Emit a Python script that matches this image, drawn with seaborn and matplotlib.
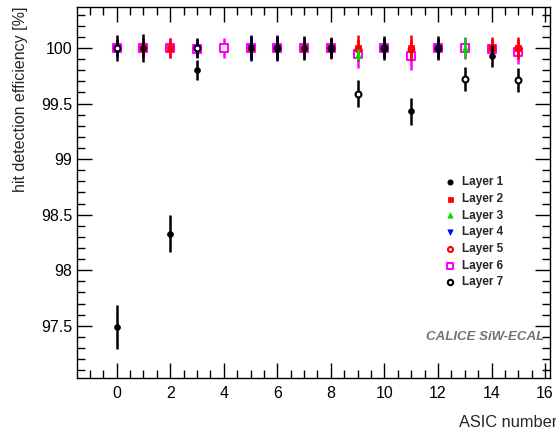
import numpy as np
import pandas as pd
import matplotlib
matplotlib.use("Agg")
import matplotlib.pyplot as plt
from matplotlib.ticker import MultipleLocator
import seaborn as sns

nan = np.nan
asic = list(range(16))

# efficiency [%] per ASIC for each layer (nan = ASIC not measured)
layer1 = [97.49, 100.0, 98.33, 99.80, nan, 100.0, 100.0, 100.0, 100.0, nan, 100.0, 99.43, 100.0, nan, 99.93, nan]
layer1_err = [0.20, 0.13, 0.17, 0.09, nan, 0.11, 0.11, 0.11, 0.09, nan, 0.11, 0.12, 0.11, nan, 0.10, nan]
layer2 = [nan, 100.0, 100.0, nan, nan, 100.0, nan, 100.0, 100.0, 100.0, nan, 100.0, nan, nan, 100.0, 100.0]
layer2_err = [nan, 0.09, 0.09, nan, nan, 0.09, nan, 0.1, 0.1, 0.12, nan, 0.12, nan, nan, 0.1, 0.1]
layer3 = [nan, nan, nan, nan, nan, nan, nan, nan, nan, 99.94, nan, nan, nan, 100.0, nan, nan]
layer3_err = [nan, nan, nan, nan, nan, nan, nan, nan, nan, 0.05, nan, nan, nan, 0.09, nan, nan]
layer4 = [100.0, nan, nan, 100.0, nan, 100.0, 100.0, nan, nan, nan, 100.0, nan, 100.0, nan, nan, nan]
layer4_err = [0.08, nan, nan, 0.08, nan, 0.12, 0.12, nan, nan, nan, 0.08, nan, 0.08, nan, nan, nan]
layer5 = [nan, 100.0, nan, nan, nan, nan, nan, nan, nan, 99.99, nan, 99.99, nan, nan, 100.0, 100.0]
layer5_err = [nan, 0.08, nan, nan, nan, nan, nan, nan, nan, 0.08, nan, 0.08, nan, nan, 0.08, 0.08]
layer6 = [100.0, 100.0, 100.0, 99.99, 100.0, 100.0, 100.0, 100.0, 100.0, 99.95, 100.0, 99.93, 100.0, 100.0, 99.99, 99.96]
layer6_err = [0.06, 0.06, 0.09, 0.06, 0.09, 0.06, 0.06, 0.06, 0.06, 0.13, 0.06, 0.13, 0.06, 0.1, 0.07, 0.1]
layer7 = [100.0, nan, nan, 100.0, nan, nan, 100.0, nan, 100.0, 99.59, 100.0, nan, 100.0, 99.72, nan, 99.71]
layer7_err = [0.12, nan, nan, 0.09, nan, nan, 0.09, nan, 0.09, 0.12, 0.09, nan, 0.09, 0.11, nan, 0.11]

layer_names = ["Layer 1", "Layer 2", "Layer 3", "Layer 4", "Layer 5", "Layer 6", "Layer 7"]
values = [layer1, layer2, layer3, layer4, layer5, layer6, layer7]
errors = [layer1_err, layer2_err, layer3_err, layer4_err, layer5_err, layer6_err, layer7_err]

colors = {"Layer 1": "black", "Layer 2": "#ff0000", "Layer 3": "#00dd00", "Layer 4": "#0000ff",
          "Layer 5": "#ff0000", "Layer 6": "#ff00ff", "Layer 7": "black"}
markers = {"Layer 1": "o", "Layer 2": "s", "Layer 3": "^", "Layer 4": "v",
           "Layer 5": "o", "Layer 6": "s", "Layer 7": "o"}
sizes = {"Layer 1": 18, "Layer 2": 16, "Layer 3": 18, "Layer 4": 18,
         "Layer 5": 16, "Layer 6": 26, "Layer 7": 18}
open_marker = {"Layer 5", "Layer 6", "Layer 7"}
# stacking order: Layer 6 at the back, Layer 1 on top
stack = {"Layer 6": 1, "Layer 5": 2, "Layer 2": 3, "Layer 3": 4, "Layer 4": 5, "Layer 7": 6, "Layer 1": 7}

rows = []
for name, v, e in zip(layer_names, values, errors):
    for a, y, dy in zip(asic, v, e):
        if not np.isnan(y):
            rows.append({"asic": a, "eff": y, "err": dy, "layer": name})
df = pd.DataFrame(rows)

sns.set_style("ticks")
plt.rcParams["font.family"] = ["Liberation Sans", "DejaVu Sans"]

fig = plt.figure(figsize=(5.56, 4.34), dpi=100)
ax = fig.add_axes([0.1385, 0.129, 0.8515, 0.855])

for name in layer_names:
    sub = df[df["layer"] == name]
    z = 2 * stack[name]
    ax.vlines(sub["asic"], sub["eff"] - sub["err"], sub["eff"] + sub["err"],
              color=colors[name], lw=1.8, zorder=z)
    if name in open_marker:
        sns.scatterplot(data=sub, x="asic", y="eff", ax=ax, marker=markers[name],
                        facecolor="white", edgecolor=colors[name], linewidth=1.5,
                        s=sizes[name], zorder=z + 1, label=name)
    else:
        sns.scatterplot(data=sub, x="asic", y="eff", ax=ax, marker=markers[name],
                        color=colors[name], edgecolor=colors[name], linewidth=0.5,
                        s=sizes[name], zorder=z + 1, label=name)

ax.set_xlim(-1.48, 16.2)
ax.set_ylim(97.03, 100.37)
ax.xaxis.set_major_locator(MultipleLocator(2))
ax.xaxis.set_minor_locator(MultipleLocator(0.5))
ax.yaxis.set_major_locator(MultipleLocator(0.5))
ax.yaxis.set_minor_locator(MultipleLocator(0.1))
ax.yaxis.set_major_formatter(matplotlib.ticker.FuncFormatter(lambda v, p: f"{v:g}"))
ax.tick_params(which="both", direction="in", top=True, right=True, width=1.0,
               labelsize=11.5, colors="black")
ax.tick_params(which="major", length=11)
ax.tick_params(which="minor", length=5.5)
ax.tick_params(axis="x", pad=6)
for s in ax.spines.values():
    s.set_linewidth(1.0)
    s.set_color("black")

ax.set_xlabel("ASIC number", fontsize=11.8, labelpad=11)
ax.xaxis.set_label_coords(1.015, -0.1, transform=ax.transAxes)
ax.xaxis.label.set_horizontalalignment("right")
ax.set_ylabel("hit detection efficiency [%]", fontsize=11.5, loc="top", labelpad=9)

leg = ax.legend(loc="upper left", bbox_to_anchor=(0.76, 0.56), frameon=False,
                prop={"size": 8.5, "weight": "bold"}, handletextpad=0.4,
                labelspacing=0.4, borderpad=0, handlelength=1.2, markerscale=0.9)

ax.text(0.987, 0.11, "CALICE SiW-ECAL", transform=ax.transAxes, ha="right",
        va="center", fontsize=9.5, fontweight="bold", fontstyle="italic", color="#737373")

fig.savefig("out.png", dpi=100)
